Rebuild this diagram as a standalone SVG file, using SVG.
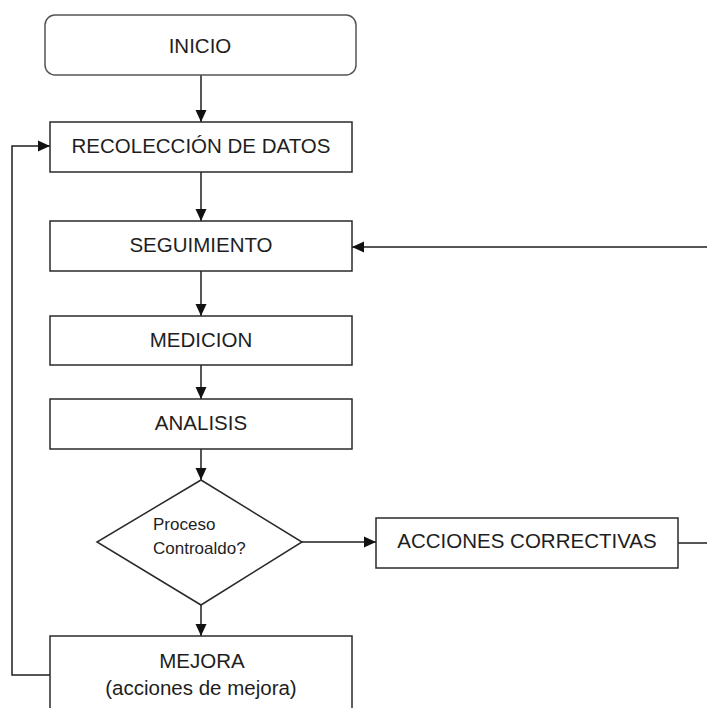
<svg xmlns="http://www.w3.org/2000/svg" width="707" height="708" viewBox="0 0 707 708">
  <style>
    .box { fill: #ffffff; stroke: #2a2a2a; stroke-width: 1.5; }
    .start { fill: #ffffff; stroke: #555555; stroke-width: 1.5; }
    .lbl { font-family: "Liberation Sans", Arial, sans-serif; font-size: 20.5px; fill: #1e1e1e; text-anchor: middle; }
    .small { font-family: "Liberation Sans", Arial, sans-serif; font-size: 17px; fill: #1e1e1e; }
    .conn { fill: none; stroke: #1e1e1e; stroke-width: 1.5; }
  </style>
  <defs>
    <marker id="arrow" viewBox="0 0 12 12" refX="12" refY="6" markerWidth="12" markerHeight="12" markerUnits="userSpaceOnUse" orient="auto">
      <path d="M0,0.5 L12,6 L0,11.5 z" fill="#111111"/>
    </marker>
  </defs>
  <rect width="707" height="708" fill="#ffffff"/>

  <g id="connectors">
    <path class="conn" d="M201,75 V122" marker-end="url(#arrow)"/>
    <path class="conn" d="M201,172 V221" marker-end="url(#arrow)"/>
    <path class="conn" d="M201,271 V316" marker-end="url(#arrow)"/>
    <path class="conn" d="M201,365 V399" marker-end="url(#arrow)"/>
    <path class="conn" d="M201,449 V480" marker-end="url(#arrow)"/>
    <path class="conn" d="M201,605 V636" marker-end="url(#arrow)"/>
    <path class="conn" d="M302,542 H376" marker-end="url(#arrow)"/>
    <path class="conn" d="M678,543 H707"/>
    <path class="conn" d="M707,247 H352" marker-end="url(#arrow)"/>
    <path class="conn" d="M50,675 H12 V146 H50" marker-end="url(#arrow)"/>
  </g>

  <g id="inicio">
    <rect class="start" x="45" y="15" width="311" height="60" rx="10" ry="10"/>
    <text class="lbl" x="200" y="53">INICIO</text>
  </g>
  <g id="recoleccion">
    <rect class="box" x="50" y="122" width="302" height="50"/>
    <text class="lbl" x="201" y="153">RECOLECCIÓN DE DATOS</text>
  </g>
  <g id="seguimiento">
    <rect class="box" x="50" y="221" width="302" height="50"/>
    <text class="lbl" x="201" y="252">SEGUIMIENTO</text>
  </g>
  <g id="medicion">
    <rect class="box" x="50" y="316" width="302" height="49"/>
    <text class="lbl" x="201" y="347">MEDICION</text>
  </g>
  <g id="analisis">
    <rect class="box" x="50" y="399" width="302" height="50"/>
    <text class="lbl" x="201" y="430">ANALISIS</text>
  </g>
  <g id="decision">
    <polygon class="box" points="201,480 302,542 201,605 97,542"/>
    <text class="small" x="153" y="530">Proceso</text>
    <text class="small" x="153" y="554">Controaldo?</text>
  </g>
  <g id="acciones-correctivas">
    <rect class="box" x="376" y="518" width="302" height="50"/>
    <text class="lbl" x="527" y="548">ACCIONES CORRECTIVAS</text>
  </g>
  <g id="mejora">
    <rect class="box" x="50" y="636" width="302" height="90"/>
    <text class="lbl" x="202" y="668">MEJORA</text>
    <text class="lbl" x="201" y="695">(acciones de mejora)</text>
  </g>
</svg>
